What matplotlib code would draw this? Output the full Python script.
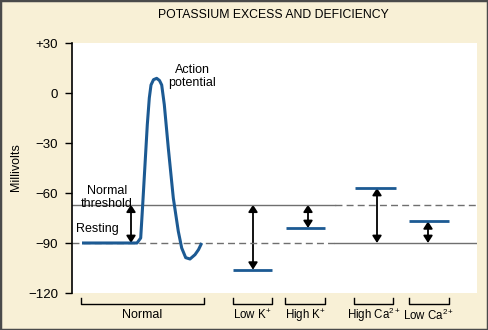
import matplotlib
matplotlib.use("Agg")
import matplotlib.pyplot as plt
from matplotlib.patches import FancyArrowPatch, Rectangle

plt.rcParams['font.family'] = ['Liberation Sans', 'DejaVu Sans']
plt.rcParams['mathtext.fontset'] = 'custom'
plt.rcParams['mathtext.rm'] = 'Liberation Sans'
plt.rcParams['mathtext.it'] = 'Liberation Sans'

# values (mV)
yticks = [30, 0, -30, -60, -90, -120]
ytick_labels = ['+30', '0', '\u221230', '\u221260', '\u221290', '\u2212120']
threshold = -67
resting = -90

# action potential trace (x in plot units, mV)
ap_x = [82, 137, 140.7, 142.7, 145, 147.3, 149.3, 151, 153.5, 156.7, 159.5, 161.7,
        164.3, 168.3, 173.3, 178.3, 181.7, 185.7, 190, 195, 198.5, 201.7]
ap_mv = [-90, -90, -87, -67, -43, -19, -3, 4.8, 8, 8.8, 7.5, 4.8,
         -7, -33, -63, -83, -93, -98.8, -99.6, -97, -94, -90]

categories = ['Normal', 'Low K$^{+}$', 'High K$^{+}$', 'High Ca$^{2+}$', 'Low Ca$^{2+}$']
bracket_x0 = [81, 233, 285, 354, 409]
bracket_x1 = [204, 272, 325, 393, 449]

# shifted levels for the four disorders
level_x0 = [233, 286, 355, 409]
level_x1 = [272, 325, 396, 449]
level_mv = [-106, -81, -57, -77]
arrow_from = [threshold, threshold, resting, resting]
arrow_x = [253, 308, 377, 428]

blue = '#1c5a93'
gray = '#6f6f6f'
W, H = 488, 330

fig = plt.figure(figsize=(W / 100, H / 100), dpi=100, facecolor='#f8f0d6')
ax = fig.add_axes([72 / W, 37 / H, 405 / W, 250 / H])
ax.set_facecolor('white')
ax.set_xlim(72, 477)
ax.set_ylim(-120, 30)

# reference lines: solid / dashed swap past the K+ panels
split = 335
ax.plot([72, split], [threshold, threshold], color=gray, lw=1)
ax.plot([split, 477], [threshold, threshold], color=gray, lw=1, dashes=(5, 3))
ax.plot([72, split], [resting, resting], color=gray, lw=1, dashes=(5, 3))
ax.plot([split, 477], [resting, resting], color=gray, lw=1)

ax.plot(ap_x, ap_mv, color=blue, lw=2.2, solid_capstyle='butt')

for x0, x1, mv in zip(level_x0, level_x1, level_mv):
    ax.plot([x0, x1], [mv, mv], color=blue, lw=2, solid_capstyle='butt')


def darrow(x, y0, y1):
    a = FancyArrowPatch((x, y0), (x, y1), arrowstyle='<|-|>,head_length=0.42,head_width=0.27',
                        mutation_scale=10, color='black', lw=1.3, shrinkA=0, shrinkB=0)
    ax.add_patch(a)


darrow(131, threshold, resting)
for xa, mv, src in zip(arrow_x, level_mv, arrow_from):
    darrow(xa, src, mv)

ax.text(192, 10, 'Action\npotential', ha='center', va='center', fontsize=9, linespacing=1.1)
ax.text(107, -62.8, 'Normal\nthreshold', ha='center', va='center', fontsize=9, linespacing=1.1)
ax.text(97, -81.5, 'Resting', ha='center', va='center', fontsize=9)

# brackets and category labels below the plot
for x0, x1, lab in zip(bracket_x0, bracket_x1, categories):
    ax.plot([x0, x0, x1, x1], [-123, -126.6, -126.6, -123], color='black', lw=1,
            clip_on=False)
    ax.text((x0 + x1) / 2, -133.3, lab, ha='center', va='center',
            fontsize=9 if lab == 'Normal' else 8.3, clip_on=False)

for s in ['top', 'right', 'bottom']:
    ax.spines[s].set_visible(False)
ax.spines['left'].set_linewidth(1.2)
ax.set_xticks([])
ax.set_yticks(yticks)
ax.set_yticklabels(ytick_labels, fontsize=9.5)
ax.tick_params(axis='y', length=5, width=1, pad=5)

fig.text(16 / W, 1 - 167.5 / H, 'Millivolts', rotation=90, ha='center', va='center', fontsize=9)
fig.text(273 / W, 1 - 15 / H, 'POTASSIUM EXCESS AND DEFICIENCY', ha='center', va='center', fontsize=8.8)

fig.patches.append(Rectangle((0, 0), 1, 1, transform=fig.transFigure, fill=False,
                             edgecolor='#4a4a4a', lw=2.5))

fig.savefig('out.png', dpi=100, facecolor=fig.get_facecolor())
